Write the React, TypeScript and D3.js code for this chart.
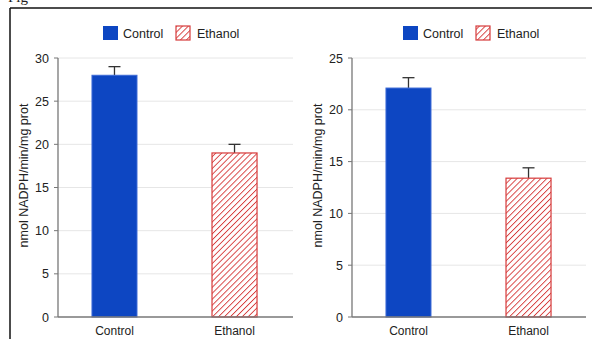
import React from "react"
import * as d3 from "d3"

// values
const groups = ["Control", "Ethanol"]
const leftValues = [28, 19]
const leftErrors = [1.0, 1.0]
const rightValues = [22.1, 13.4]
const rightErrors = [1.0, 1.0]
const leftTicks = [0, 5, 10, 15, 20, 25, 30]
const rightTicks = [0, 5, 10, 15, 20, 25]
const yLabel = "nmol NADPH/min/mg prot"

const W = 592
const H = 339
const blue = "#0d46c2"
const red = "#d63a3a"
const font = "Liberation Sans, Arial, sans-serif"

type PanelProps = {
  x0: number
  x1: number
  max: number
  ticks: number[]
  values: number[]
  errors: number[]
  labelX: number
  legendX: number
}

const Panel = ({ x0, x1, max, ticks, values, errors, labelX, legendX }: PanelProps) => {
  const y = d3.scaleLinear().domain([0, max]).range([317, 58])
  const x = d3.scaleBand().domain(groups).range([x0, x0 + 233]).paddingInner(0.625).paddingOuter(0.283)

  return (
    <g>
      {/* legend */}
      <rect x={legendX} y={26} width={15} height={14} fill={blue} />
      <text x={legendX + 20} y={38} fontSize={12.5} fill="#222" fontFamily={font}>Control</text>
      <rect x={legendX + 73} y={26} width={14} height={14} fill="url(#hatch)" stroke={red} strokeWidth={1.2} />
      <text x={legendX + 94} y={38} fontSize={12.5} fill="#222" fontFamily={font}>Ethanol</text>

      {/* grid */}
      {ticks.filter(t => t > 0).map(t => (
        <line key={t} x1={x0} x2={x1} y1={y(t)} y2={y(t)} stroke="#e6e6e6" strokeWidth={1} />
      ))}

      {/* bars */}
      {groups.map((g, i) => {
        const bx = x(g) as number
        const bw = x.bandwidth()
        const cx = bx + bw / 2
        const top = y(values[i])
        const eTop = y(values[i] + errors[i])
        return (
          <g key={g}>
            <line x1={cx} x2={cx} y1={top} y2={eTop} stroke="#333" strokeWidth={1.3} />
            <line x1={cx - 6} x2={cx + 6} y1={eTop} y2={eTop} stroke="#333" strokeWidth={1.3} />
            {i === 0 ? (
              <rect x={bx} y={top} width={bw} height={y(0) - top} fill={blue} stroke="#3c6ad6" strokeWidth={1} />
            ) : (
              <rect x={bx} y={top} width={bw} height={y(0) - top} fill="url(#hatch)" stroke={red} strokeWidth={1.2} />
            )}
            <text x={cx} y={335} textAnchor="middle" fontSize={12} fill="#222" fontFamily={font}>{g}</text>
          </g>
        )
      })}

      {/* axes */}
      <line x1={x0} x2={x0} y1={y(max)} y2={y(0)} stroke="#777" strokeWidth={1.3} />
      <line x1={x0} x2={x1} y1={y(0)} y2={y(0)} stroke="#777" strokeWidth={1.5} />
      {ticks.map(t => (
        <g key={t}>
          <line x1={x0 - 4} x2={x0} y1={y(t)} y2={y(t)} stroke="#777" strokeWidth={1} />
          <text x={x0 - 9} y={y(t) + 4.5} textAnchor="end" fontSize={12.5} fill="#222" fontFamily={font}>{t}</text>
        </g>
      ))}
      <text
        transform={`translate(${labelX},${(y(0) + y(max)) / 2 - 12}) rotate(-90)`}
        textAnchor="middle"
        fontSize={12.5}
        fill="#222"
        fontFamily={font}
      >
        {yLabel}
      </text>
    </g>
  )
}

export default function App() {
  return (
    <div style={{ position: "fixed", left: 0, top: 0 }}>
      <svg width={W} height={H} style={{ display: "block", background: "#fff" }}>
        <defs>
          <pattern id="hatch" patternUnits="userSpaceOnUse" width={4.2} height={4.2} patternTransform="rotate(45)">
            <rect width={4.2} height={4.2} fill="#fff" />
            <line x1={0} y1={0} x2={0} y2={4.2} stroke={red} strokeWidth={1.8} />
          </pattern>
        </defs>
        <text x={8} y={2} fontSize={15} fill="#222" fontFamily="Liberation Serif, serif">Fig</text>
        <line x1={10} x2={W} y1={8} y2={8} stroke="#111" strokeWidth={1.5} />
        <line x1={10} x2={10} y1={8} y2={H} stroke="#111" strokeWidth={1.5} />
        <Panel x0={58} x1={293} max={30} ticks={leftTicks} values={leftValues} errors={leftErrors} labelX={28} legendX={103} />
        <Panel x0={352} x1={586} max={25} ticks={rightTicks} values={rightValues} errors={rightErrors} labelX={322} legendX={403} />
      </svg>
    </div>
  )
}
